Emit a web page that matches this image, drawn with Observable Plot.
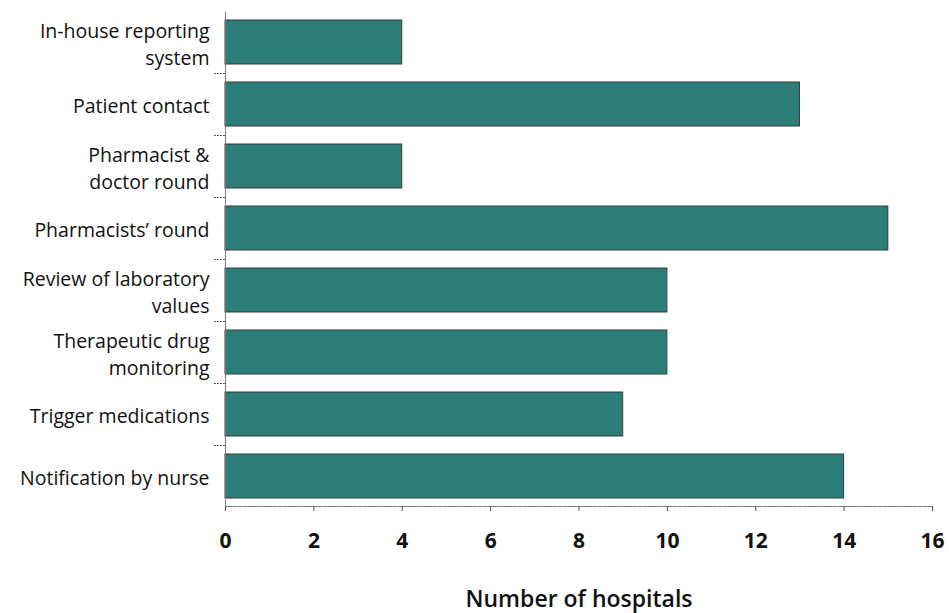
<!DOCTYPE html>
<html>
<head>
<meta charset="utf-8">
<script src="https://cdn.jsdelivr.net/npm/d3@7"></script>
<script src="https://cdn.jsdelivr.net/npm/@observablehq/plot@0.6"></script>
<style>
  html, body { margin: 0; padding: 0; background: #fff; }
  #chart svg { display: block; }
</style>
</head>
<body>
<div id="chart"></div>
<script>
const categories = [
  "In-house reporting\nsystem",
  "Patient contact",
  "Pharmacist &\ndoctor round",
  "Pharmacists’ round",
  "Review of laboratory\nvalues",
  "Therapeutic drug\nmonitoring",
  "Trigger medications",
  "Notification by nurse"
];
const values = [4, 13, 4, 15, 10, 10, 9, 14];
const xTicks = [0, 2, 4, 6, 8, 10, 12, 14, 16];
const xLabel = "Number of hospitals";

const data = categories.map((c, i) => ({category: c, value: values[i]}));

const W = 949, H = 613, mTop = 12, mBottom = 107;
const yRange = [2, 516];
const pad = 0.29;
const step = (yRange[1] - yRange[0]) / (categories.length + pad);

const chart = Plot.plot({
  width: W,
  height: H,
  marginLeft: 225,
  marginRight: 17,
  marginTop: mTop,
  marginBottom: mBottom,
  style: {fontFamily: "'Open Sans', sans-serif", color: "#111", background: "#fff"},
  x: {domain: [0, 16]},
  y: {domain: categories, padding: pad, range: yRange},
  marks: [
    Plot.barX(data, {y: "category", x: "value", fill: "#2a7e77", stroke: "#3a3a3a", strokeWidth: 1}),
    Plot.frame({anchor: "left", stroke: "#777", strokeDasharray: "1.5,1"}),
    Plot.frame({anchor: "bottom", stroke: "#777", strokeDasharray: "1.5,1"}),
    Plot.ruleY(categories.slice(0, -1), {y: d => d, x1: -0.25, x2: 0, dy: step / 2, stroke: "#555", strokeWidth: 1, strokeDasharray: "2,1"}),
    Plot.axisY({tickSize: 0, tickPadding: 16, fontSize: 19.5, lineHeight: 1.38, label: null}),
    Plot.axisX({ticks: xTicks, tickSize: 5, tickPadding: 22, fontSize: 21, fontWeight: "bold", stroke: "#555",
      label: xLabel, labelAnchor: "center", labelArrow: "none", labelOffset: 100}),
  ]
});
chart.querySelectorAll("[aria-label='x-axis label'] text").forEach(t => { t.setAttribute("font-size", 23); t.setAttribute("font-weight", "600"); });
document.getElementById("chart").appendChild(chart);
</script>
</body>
</html>
